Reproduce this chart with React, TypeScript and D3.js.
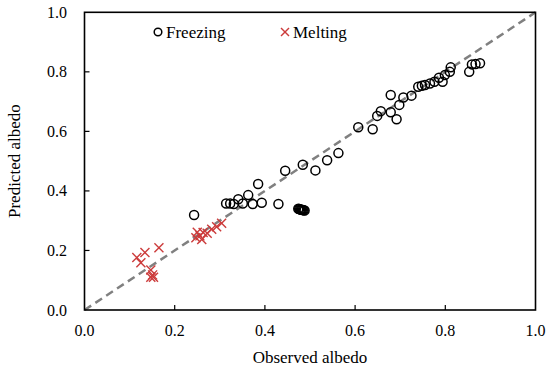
import * as d3 from 'd3'

// Freezing (open circles)
const freezeX = [
  0.243, 0.314, 0.323, 0.331, 0.341, 0.351, 0.363, 0.373, 0.385, 0.393, 0.430,
  0.445, 0.484, 0.512, 0.538, 0.563,
  0.474, 0.476, 0.478, 0.480, 0.482, 0.484, 0.486, 0.488,
  0.607, 0.639, 0.649, 0.657, 0.679, 0.692, 0.679, 0.698, 0.707, 0.725,
  0.740, 0.748, 0.755, 0.766, 0.776, 0.786, 0.794, 0.799, 0.810, 0.812,
  0.853, 0.859, 0.867, 0.877,
]
const freezeY = [
  0.319, 0.358, 0.358, 0.356, 0.372, 0.358, 0.386, 0.356, 0.423, 0.360, 0.356,
  0.468, 0.488, 0.469, 0.503, 0.527,
  0.340, 0.339, 0.338, 0.337, 0.337, 0.336, 0.335, 0.334,
  0.614, 0.607, 0.652, 0.668, 0.664, 0.641, 0.722, 0.689, 0.714, 0.720,
  0.750, 0.753, 0.756, 0.761, 0.767, 0.780, 0.767, 0.789, 0.800, 0.815,
  0.800, 0.825, 0.826, 0.829,
]

// Melting (crosses)
const meltX = [
  0.116, 0.134, 0.125, 0.165, 0.147, 0.151, 0.147, 0.153,
  0.250, 0.247, 0.256, 0.263, 0.272, 0.260, 0.282, 0.293, 0.304,
]
const meltY = [
  0.176, 0.193, 0.159, 0.209, 0.134, 0.118, 0.110, 0.110,
  0.261, 0.243, 0.249, 0.260, 0.258, 0.237, 0.271, 0.280, 0.291,
]

const TICKS = [0, 0.2, 0.4, 0.6, 0.8, 1.0]

const W = 550
const H = 373
const M = { left: 84.5, right: 535.5, top: 12.3, bottom: 310 }
const FONT = "'Liberation Serif', 'Times New Roman', serif"
const RED = '#cc3b3b'

export default function App() {
  const x = d3.scaleLinear().domain([0, 1]).range([M.left, M.right])
  const y = d3.scaleLinear().domain([0, 1]).range([M.bottom, M.top])
  const fmt = d3.format('.1f')

  const cross = (cx: number, cy: number, k: string, s = 4.5) => (
    <g key={k} stroke={RED} strokeWidth={1.4}>
      <line x1={cx - s} y1={cy - s} x2={cx + s} y2={cy + s} />
      <line x1={cx - s} y1={cy + s} x2={cx + s} y2={cy - s} />
    </g>
  )

  return (
    <svg width={W} height={H} style={{ position: 'absolute', left: 0, top: 0, background: '#fff', fontFamily: FONT }}>
      {/* 1:1 line */}
      <line x1={x(0)} y1={y(0)} x2={x(1)} y2={y(1)}
        stroke="#808080" strokeWidth={2.5} strokeDasharray="8,5" />

      {/* ticks */}
      {TICKS.slice(1, -1).map(t => (
        <g key={'t' + t} stroke="#000" strokeWidth={1.2}>
          <line x1={x(t)} x2={x(t)} y1={M.bottom} y2={M.bottom - 5} />
          <line x1={M.left} x2={M.left + 5} y1={y(t)} y2={y(t)} />
        </g>
      ))}

      {/* frame */}
      <rect x={M.left} y={M.top} width={M.right - M.left} height={M.bottom - M.top}
        fill="none" stroke="#000" strokeWidth={1.6} />

      {/* tick labels */}
      {TICKS.map(t => (
        <text key={'xl' + t} x={x(t)} y={336} textAnchor="middle" fontSize={16}>{fmt(t)}</text>
      ))}
      {TICKS.map(t => (
        <text key={'yl' + t} x={67} y={y(t) + 5.5} textAnchor="end" fontSize={16}>{fmt(t)}</text>
      ))}

      {/* axis titles */}
      <text x={(M.left + M.right) / 2} y={363} textAnchor="middle" fontSize={17}>Observed albedo</text>
      <text transform={`translate(20,${(M.top + M.bottom) / 2}) rotate(-90)`} textAnchor="middle"
        fontSize={17}>Predicted albedo</text>

      {/* data */}
      {meltX.map((v, i) => cross(x(v), y(meltY[i]), 'm' + i))}
      {freezeX.map((v, i) => (
        <circle key={'f' + i} cx={x(v)} cy={y(freezeY[i])} r={4.5}
          fill="none" stroke="#000" strokeWidth={1.5} />
      ))}

      {/* legend */}
      <circle cx={158} cy={32} r={3.8} fill="none" stroke="#000" strokeWidth={1.5} />
      <text x={166} y={38} fontSize={17}>Freezing</text>
      {cross(285, 32, 'leg', 4)}
      <text x={293} y={38} fontSize={17}>Melting</text>
    </svg>
  )
}
